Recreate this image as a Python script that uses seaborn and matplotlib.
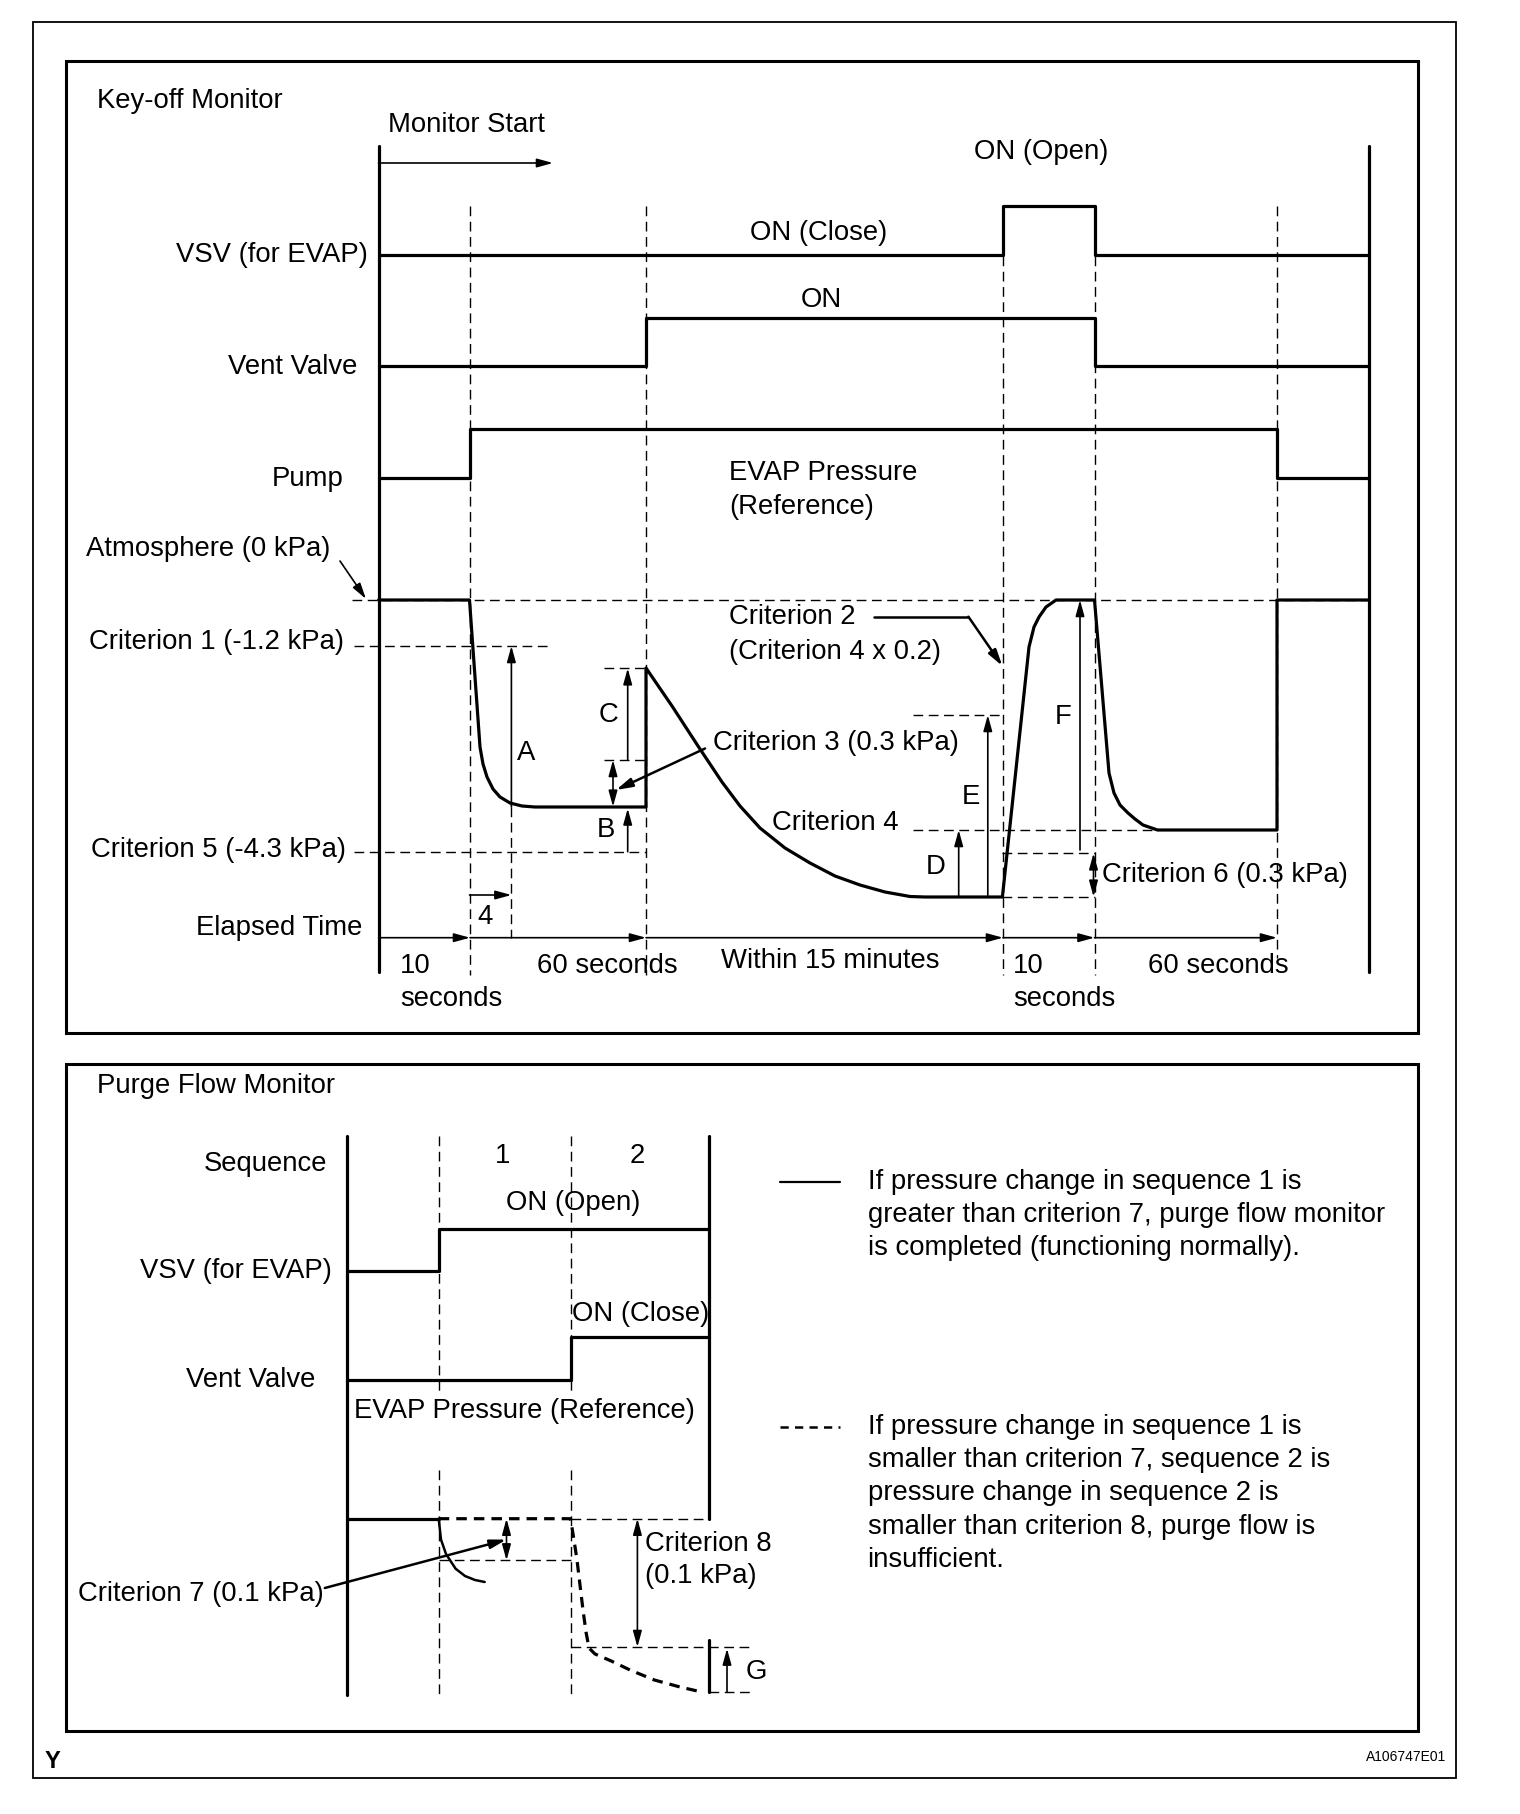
import numpy as np
import pandas as pd
import matplotlib.pyplot as plt
import seaborn as sns
from matplotlib.patches import Rectangle

# --- Key-off monitor (upper panel), values in pixels ---
ko_phase_x = [378.6, 470.0, 646.0, 1003.0, 1094.5, 1277.0, 1369.0]
ko_vsv_on = [0, 0, 0, 1, 0, 0]
ko_vent_on = [0, 0, 1, 1, 0, 0]
ko_pump_on = [0, 1, 1, 1, 1, 0]
ko_row_names = ['VSV (for EVAP)', 'Vent Valve', 'Pump']
ko_row_low = [254.5, 366.0, 477.5]
ko_row_high = [206.0, 318.0, 428.5]
ko_atmosphere = 600.0
ko_criterion1 = 646.0
ko_criterion5 = 851.7
ko_criterion4 = 830.0

# EVAP pressure trace (reference)
ko_press_x = [378.6, 469.5, 472, 475, 478, 480, 483, 487, 493, 500, 510, 522, 535, 646,
              646, 672, 698, 722, 740, 760, 785, 810, 835, 860, 885, 910, 925, 1002.4,
              1029, 1034, 1039, 1046, 1056, 1094.5,
              1109, 1114, 1120, 1128, 1135, 1143, 1157.5, 1277, 1277, 1369]
ko_press_y = [600, 600, 635, 677, 719, 747, 764, 777, 789, 797, 803, 806, 807, 807,
              668, 706, 746, 782, 806, 828, 848, 863, 876, 885, 892, 896.5, 897, 897,
              647, 627, 617, 607, 600, 600,
              773, 793, 805, 813, 819, 825, 830, 830, 600, 600]

# --- Purge flow monitor (lower panel) ---
pf_phase_x = [347.0, 438.7, 570.5, 708.7]
pf_vsv_on = [0, 1, 1]
pf_vent_on = [0, 0, 1]
pf_row_names = ['VSV (for EVAP)', 'Vent Valve']
pf_row_low = [1270.5, 1379.6]
pf_row_high = [1229.0, 1337.4]
pf_atmosphere = 1518.7
pf_normal_x = [438.7, 441, 446, 455.6, 465, 475, 484.7]
pf_normal_y = [1518.7, 1539.6, 1554, 1568.7, 1576, 1580, 1582]
pf_weak_x = [438.7, 570.5, 574, 577, 580, 583, 586, 589, 595, 610.8, 630, 654.4, 680, 703]
pf_weak_y = [1518.7, 1518.7, 1540, 1560, 1585, 1610, 1632, 1648, 1654, 1660.8, 1670, 1680, 1687, 1692.3]

legend_text = [
    'If pressure change in sequence 1 is\ngreater than criterion 7, purge flow monitor\n'
    'is completed (functioning normally).',
    'If pressure change in sequence 1 is\nsmaller than criterion 7, sequence 2 is\n'
    'pressure change in sequence 2 is\nsmaller than criterion 8, purge flow is\ninsufficient.',
]

sns.set_theme(style='white')
plt.rcParams['font.family'] = ['Liberation Sans', 'DejaVu Sans']
FS = 19.8
THICK = 2.3
THIN = 1.0
DASH = (0, (7, 4))

fig = plt.figure(figsize=(15.2, 18.14), dpi=100)
ax = fig.add_axes([0, 0, 1, 1])


def step_trace(xs, states, low, high):
    ys = [low - (low - high) * s for s in states]
    return xs, ys + [ys[-1]]


def txt(x, y, s, ha='left', **kw):
    ax.text(x, y, s, ha=ha, va='center', fontsize=kw.pop('fontsize', FS), color='black', **kw)


def arrow(x0, y0, x1, y1, style='-|>', lw=1.2):
    ax.annotate('', xy=(x1, y1), xytext=(x0, y0),
                arrowprops=dict(arrowstyle=style + ',head_length=0.8,head_width=0.22',
                                mutation_scale=12, color='black', lw=lw,
                                shrinkA=0, shrinkB=0))


def dash(xs, ys, lw=THIN):
    ax.plot(xs, ys, color='black', lw=lw, linestyle=DASH)


# frames
ax.add_patch(Rectangle((33, 21.5), 1422.5, 1756, fill=False, lw=1.3, ec='black'))
ax.add_patch(Rectangle((65.5, 61.3), 1352.3, 972, fill=False, lw=2.2, ec='black'))
ax.add_patch(Rectangle((65.5, 1063.6), 1352.3, 667.4, fill=False, lw=2.2, ec='black'))

# ================= Key-off monitor =================
txt(97, 101, 'Key-off Monitor')
txt(388, 124.5, 'Monitor Start')
arrow(378.6, 163, 553, 163)

# axes
ax.plot([378.6, 378.6], [146, 972], color='black', lw=THICK)
ax.plot([1369.3, 1369.3], [146, 972], color='black', lw=THICK)

# vertical phase guides
for x, top, bottom in zip(ko_phase_x[1:-1], [206, 206, 256, 256, 206], [975, 975, 975, 975, 958]):
    dash([x, x], [top, bottom])
dash([511.4, 511.4], [807, 937.7])

# horizontal guides
dash([352, 1369], [ko_atmosphere, ko_atmosphere])
dash([354, 548], [ko_criterion1, ko_criterion1])
dash([354, 646], [ko_criterion5, ko_criterion5])
dash([603.5, 646], [668.3, 668.3])
dash([603.5, 646], [760, 760])
dash([912.7, 1002.4], [715, 715])
dash([912.7, 1157.5], [ko_criterion4, ko_criterion4])
dash([1002.4, 1094.5], [853.3, 853.3])
dash([1002.4, 1094.5], [896.7, 896.7])

# step traces
for name, states, low, high, lx in zip(ko_row_names, [ko_vsv_on, ko_vent_on, ko_pump_on],
                                       ko_row_low, ko_row_high, [368, 357, 344]):
    xs, ys = step_trace(ko_phase_x, states, low, high)
    sns.lineplot(x=xs, y=ys, ax=ax, color='black', lw=THICK, drawstyle='steps-post',
                 estimator=None, sort=False)
    txt(lx, low + 1, name, ha='right')

txt(1041, 152, 'ON (Open)', ha='center')
txt(819, 233, 'ON (Close)', ha='center')
txt(821, 300, 'ON', ha='center')
txt(729, 473, 'EVAP Pressure')
txt(729, 507, '(Reference)')

# pressure trace
sns.lineplot(x=ko_press_x, y=ko_press_y, ax=ax, color='black', lw=THICK,
             estimator=None, sort=False)

# labels on the pressure axis
txt(330, 549, 'Atmosphere (0 kPa)', ha='right')
arrow(340, 561, 366, 599)
txt(344, 642, 'Criterion 1 (-1.2 kPa)', ha='right')
txt(346, 850, 'Criterion 5 (-4.3 kPa)', ha='right')

# A, B, C
arrow(511.4, 807, 511.4, ko_criterion1)
txt(526, 753, 'A', ha='center')
arrow(627.7, ko_criterion5, 627.7, 808.5)
txt(606, 830, 'B', ha='center')
arrow(627.7, 760, 627.7, 668.3)
txt(608, 715, 'C', ha='center')
arrow(613, 760, 613, 806.7, style='<|-|>')
arrow(705, 748.5, 616, 790, lw=1.8)
txt(712.6, 743, 'Criterion 3 (0.3 kPa)')

# criterion 2
txt(729, 617, 'Criterion 2')
txt(729, 652, '(Criterion 4 x 0.2)')
ax.plot([874, 968.4], [616.7, 616.7], color='black', lw=1.8)
arrow(968.4, 616.7, 1002.4, 666, lw=1.8)

# D, E, F
txt(898, 823, 'Criterion 4', ha='right')
arrow(958.7, 897, 958.7, ko_criterion4)
txt(935.5, 866.7, 'D', ha='center')
arrow(987.8, 897, 987.8, 715)
txt(971, 796.7, 'E', ha='center')
arrow(1080, 850, 1080, ko_atmosphere)
txt(1063, 716.7, 'F', ha='center')
arrow(1093.5, 853.3, 1093.5, 896.7, style='<|-|>')
txt(1101.7, 875, 'Criterion 6 (0.3 kPa)')

# elapsed time
arrow(469.5, 895, 511.4, 895)
txt(485, 917, '4', ha='center')
txt(362.6, 928, 'Elapsed Time', ha='right')
for x0, x1 in zip(ko_phase_x[:-2], ko_phase_x[1:-1]):
    arrow(x0, 937.7, x1, 937.7)
txt(400, 966, '10')
txt(400, 999, 'seconds')
txt(607, 966, '60 seconds', ha='center')
txt(830, 961, 'Within 15 minutes', ha='center')
txt(1013, 966, '10')
txt(1013, 999, 'seconds')
txt(1218, 966, '60 seconds', ha='center')

# ================= Purge flow monitor =================
txt(97, 1086, 'Purge Flow Monitor')
ax.plot([347, 347], [1136.3, 1694.7], color='black', lw=THICK)
ax.plot([708.7, 708.7], [1136.3, 1519], color='black', lw=THICK)
ax.plot([708.7, 708.7], [1640, 1692.3], color='black', lw=THICK)
for x in pf_phase_x[1:3]:
    dash([x, x], [1136.3, 1392])
    dash([x, x], [1470, 1694.7])

txt(327, 1164, 'Sequence', ha='right')
txt(502.7, 1156, '1', ha='center')
txt(637.4, 1156, '2', ha='center')

for name, states, low, high, lx in zip(pf_row_names, [pf_vsv_on, pf_vent_on],
                                       pf_row_low, pf_row_high, [332, 315]):
    xs, ys = step_trace(pf_phase_x, states, low, high)
    sns.lineplot(x=xs, y=ys, ax=ax, color='black', lw=THICK, drawstyle='steps-post',
                 estimator=None, sort=False)
    txt(lx, low, name, ha='right')

txt(572.8, 1203, 'ON (Open)', ha='center')
txt(572, 1314, 'ON (Close)')
txt(354, 1411, 'EVAP Pressure (Reference)')

# pressure guides
dash([570.5, 708.7], [pf_atmosphere, pf_atmosphere])
dash([438.7, 570.5], [1560.4, 1560.4])
dash([570.5, 752], [1647, 1647])
dash([708.7, 752], [1692.3, 1692.3])

sns.lineplot(x=pf_phase_x[:2], y=[pf_atmosphere] * 2, ax=ax, color='black', lw=THICK,
             estimator=None, sort=False)
sns.lineplot(x=pf_normal_x, y=pf_normal_y, ax=ax, color='black', lw=1.8,
             estimator=None, sort=False)
ax.plot(pf_weak_x, pf_weak_y, color='black', lw=THICK, linestyle=(0, (3.3, 2.2)))

arrow(506.5, pf_atmosphere, 506.5, 1560.4, style='<|-|>')
arrow(324.8, 1588, 506.5, 1539.6, lw=1.8)
txt(323.8, 1594, 'Criterion 7 (0.1 kPa)', ha='right')
arrow(637.4, pf_atmosphere, 637.4, 1647, style='<|-|>')
txt(644.7, 1544, 'Criterion 8')
txt(644.7, 1576, '(0.1 kPa)')
arrow(727, 1692.3, 727, 1648.6)
txt(746, 1672, 'G')

# legend
ax.plot([780.4, 840], [1182, 1182], color='black', lw=1.6)
ax.plot([780.4, 840], [1427, 1427], color='black', lw=1.8, linestyle=(0, (3.3, 2.5)))
for y0, block in zip([1182, 1427], legend_text):
    for i, line in enumerate(block.split('\n')):
        txt(867.6, y0 + i * 33.2, line)

txt(1446, 1757, 'A106747E01', ha='right', fontsize=10)
txt(45, 1761, 'Y', fontweight='bold', fontsize=17)

ax.set_xlim(0, 1520)
ax.set_ylim(1814, 0)
ax.axis('off')
fig.savefig('out.png', dpi=100)
